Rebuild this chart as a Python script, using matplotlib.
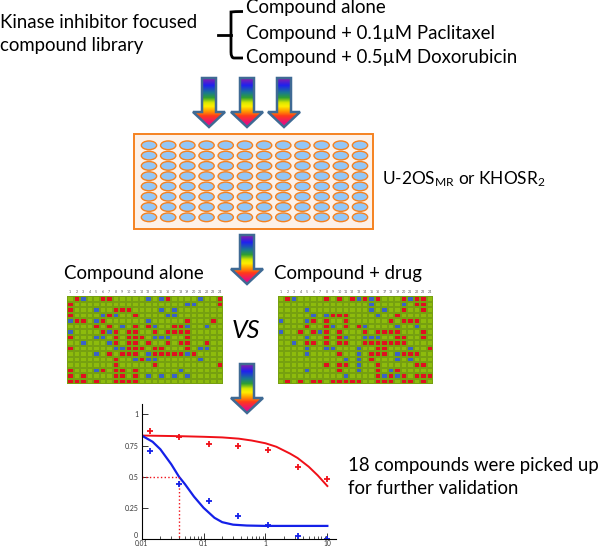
import numpy as np
import matplotlib
matplotlib.use('Agg')
import matplotlib.pyplot as plt
from matplotlib.colors import ListedColormap, LinearSegmentedColormap
from matplotlib.patches import Ellipse, PathPatch, Polygon, Rectangle
from matplotlib.path import Path

plt.rcParams['font.family'] = ['Lato', 'DejaVu Sans']
plt.rcParams['mathtext.default'] = 'regular'

# 384 well plates, hit wells per row (column numbers from 0)
alone_red = [[1, 5, 6, 15, 23], [0, 23], [0, 7, 8, 9], [0, 6, 10], [1, 2, 5, 18, 22],
             [4, 6, 10, 12, 16, 17], [5, 7, 9, 10, 13, 15, 16, 17, 18], [0, 7, 9, 10, 11, 18],
             [7, 9, 10, 12, 15, 17, 18, 21], [0, 9, 10, 11, 13, 14, 18],
             [6, 8, 9, 10, 13, 14, 15, 16, 17, 19], [7, 11], [7, 13, 23],
             [0, 5, 7, 8, 10], [0, 2, 7, 8, 10], [0, 1, 2, 4, 7, 8, 9, 10]]
alone_blue = [[2, 12, 14, 20], [18, 19], [4, 14, 16], [5, 7, 15, 16], [0, 4, 12],
              [8, 13, 18, 21], [0, 6], [4, 5, 13, 14, 15], [2, 6], [7, 8, 20, 21],
              [4, 12, 18], [10, 12, 13, 20], [], [4, 17], [12, 14, 16, 18], []]
drug_red = [[1, 7, 9, 11, 13, 15, 19, 21, 22], [21, 22], [19, 22], [8, 9, 10, 18],
            [5, 7, 10, 17, 19, 20, 21], [4, 7, 10, 12], [3, 5, 7, 9, 13, 15, 16, 17, 18, 22],
            [7, 9, 18, 19, 22], [4, 5, 7, 9, 10, 13, 14, 15, 16, 17, 18, 19],
            [15, 16, 23], [9, 14, 15, 16, 19, 20, 21], [14], [7, 9, 10, 15, 21, 22],
            [9, 15, 18], [15, 17, 19, 21, 22, 23], [1, 3, 5, 6, 8, 9, 10, 11, 12, 15, 16, 17, 19, 20, 22]]
drug_blue = [[2, 12, 14, 20], [14, 19], [4, 14, 16], [5, 7, 15], [0, 4],
             [8, 13, 18, 21], [0, 6], [4, 10, 13, 14, 15], [2],
             [4, 7, 8, 12, 20], [4, 12, 18], [10, 12, 18, 20], [12],
             [4, 12, 17], [10, 16, 18], []]

# dose response
doses = [0.0136, 0.04, 0.123, 0.366, 1.11, 3.3, 10]
red_points = [0.866, 0.818, 0.762, 0.743, 0.711, 0.58, 0.484]
blue_points = [0.709, 0.44, 0.307, 0.184, 0.112, 0.024, 0.003]
red_fit_x = [0.01, 0.04, 0.1, 0.2, 0.37, 0.6, 1.0, 1.5, 2.5, 3.3, 5, 7, 10]
red_fit_y = [0.83, 0.825, 0.82, 0.815, 0.805, 0.79, 0.768, 0.74, 0.685, 0.65, 0.58, 0.51, 0.425]
blue_fit_x = [0.01, 0.015, 0.02, 0.03, 0.04, 0.05, 0.07, 0.1, 0.15, 0.2, 0.3, 0.5, 1, 10]
blue_fit_y = [0.83, 0.78, 0.72, 0.6, 0.5, 0.44, 0.34, 0.25, 0.17, 0.135, 0.115, 0.108, 0.105, 0.105]
ic50_x = [0.01, 0.04, 0.04]
ic50_y = [0.5, 0.5, 0]

W, H = 600, 548
ORANGE = '#f58220'
rainbow = LinearSegmentedColormap.from_list(
    'arrow', [(0, '#8a1fa8'), (0.14, '#2020f0'), (0.3, '#1a7a90'), (0.4, '#30a030'), (0.5, '#d8e800'),
              (0.58, '#ffee00'), (0.68, '#ff9a00'), (0.78, '#ff3a1a'), (0.92, '#e8107a'), (1, '#e8107a')])


def px_axes(x0, y0, x1, y1):
    return fig.add_axes([x0 / W, 1 - y1 / H, (x1 - x0) / W, (y1 - y0) / H])


def arrow(cx, top, bottom, neck):
    pts = [(cx - 7, top), (cx + 7, top), (cx + 7, neck), (cx + 16, neck), (cx, bottom),
           (cx - 16, neck), (cx - 7, neck)]
    im = ax.imshow(np.linspace(0, 1, 64).reshape(-1, 1), cmap=rainbow, aspect='auto',
                   extent=(cx - 16, cx + 16, bottom, top), zorder=2)
    clip = Polygon(pts, closed=True, transform=ax.transData, fc='none', ec='none')
    ax.add_patch(clip)
    im.set_clip_path(clip)
    ax.add_patch(Polygon(pts, closed=True, fc='none', ec='#3f6a94', lw=1.8, zorder=3))


def plate(x0, y0, x1, y1, red, blue):
    grid = np.zeros((16, 24))
    for row in range(16):
        grid[row, red[row]] = 1
        grid[row, blue[row]] = 2
    a = px_axes(x0, y0, x1, y1)
    a.pcolormesh(grid, cmap=ListedColormap(['#8dbb0c', '#e01020', '#3a62c8']), vmin=0, vmax=2,
                 edgecolors='#76a010', linewidth=0.2)
    a.invert_yaxis()
    a.set_xticks([])
    a.set_yticks([])
    for s in a.spines.values():
        s.set_visible(False)
    for col in range(24):
        a.text(col + 0.5, -0.35, str(col + 1), fontsize=2.6, color='#555555', ha='center', va='bottom')


fig = plt.figure(figsize=(W / 100, H / 100), dpi=100)
ax = fig.add_axes([0, 0, 1, 1])
ax.set_xlim(0, W)
ax.set_ylim(H, 0)
ax.axis('off')

fs = 13.4
ax.text(0, 22, 'Kinase inhibitor focused', fontsize=fs, va='center')
ax.text(0, 46, 'compound library', fontsize=fs, va='center')
ax.text(246, 8, 'Compound alone', fontsize=fs, va='center')
ax.text(246, 33, 'Compound + 0.1µM Paclitaxel', fontsize=fs, va='center')
ax.text(246, 57, 'Compound + 0.5µM Doxorubicin', fontsize=fs, va='center')
ax.text(382, 179, 'U-2OS$_{MR}$ or KHOSR$_{2}$', fontsize=12.4, va='center')
ax.text(64, 274, 'Compound alone', fontsize=fs, va='center')
ax.text(274, 274, 'Compound + drug', fontsize=fs, va='center')
ax.text(232, 331, 'VS', fontsize=18, style='italic', va='center')
ax.text(348, 465, '18 compounds were picked up', fontsize=fs, va='center')
ax.text(348, 489, 'for further validation', fontsize=fs, va='center')

# curly bracket
brace = Path([(243, 11.5), (234, 11.5), (231, 12), (231, 18), (231, 52), (231, 58), (234, 58), (243, 58)],
             [Path.MOVETO, Path.CURVE3, Path.CURVE3, Path.LINETO, Path.LINETO, Path.CURVE3, Path.CURVE3, Path.LINETO])
ax.add_patch(PathPatch(brace, fc='none', ec='black', lw=2))
ax.plot([218, 231], [34.5, 34.5], color='black', lw=2)

for cx in [209, 247, 284]:
    arrow(cx, 78, 127, 112)
arrow(247, 235, 284, 269)
arrow(247, 364, 413, 398)

# plate
ax.add_patch(Rectangle((134, 134), 239, 95, fc='#fdf1e8', ec=ORANGE, lw=1.4))
for ex in np.linspace(149, 360, 12):
    for ey in np.linspace(145.3, 217.3, 8):
        ax.add_patch(Ellipse((ex, ey), 15.3, 8.7, fc='#93c6f6', ec=ORANGE, lw=1.0))

plate(67, 296, 223, 384, alone_red, alone_blue)
plate(278, 296, 433, 384, drug_red, drug_blue)

# dose response
dr = px_axes(141.7, 404, 336, 539)
dr.set_xscale('log')
dr.set_xlim(0.01, 13.8)
dr.set_ylim(0, 1.083)
dr.plot(red_fit_x, red_fit_y, color='#f01018', lw=1.4)
dr.plot(blue_fit_x, blue_fit_y, color='#1420e8', lw=1.6)
dr.plot(ic50_x, ic50_y, color='#f01018', lw=1.0, ls=':')
dr.plot(doses, red_points, '+', color='#f01018', ms=4.5, mew=1.3, ls='none')
dr.plot(doses, blue_points, '+', color='#1420e8', ms=4.5, mew=1.3, ls='none')
dr.set_xticks([0.01, 0.1, 1, 10])
dr.set_xticklabels(['0.01', '0.1', '1', '10'])
dr.set_yticks([0, 0.25, 0.5, 0.75, 1])
dr.set_yticklabels(['0', '0.25', '0.5', '0.75', '1'])
dr.tick_params(axis='y', which='major', direction='in', length=4, width=0.7, labelsize=5,
               colors='#333333', pad=2.5)
dr.tick_params(axis='x', which='major', direction='in', length=4, width=0.7, labelsize=4.8,
               colors='#333333', pad=0.8)
dr.tick_params(axis='x', which='minor', direction='in', length=2, width=0.6, labelbottom=False, color='#333333')
dr.get_yticklabels()[0].set_va('bottom')
dr.spines['top'].set_visible(False)
dr.spines['right'].set_visible(False)
dr.spines['left'].set_linewidth(0.8)
dr.spines['bottom'].set_linewidth(0.8)
dr.patch.set_alpha(0)

fig.savefig('out.png', dpi=100)
